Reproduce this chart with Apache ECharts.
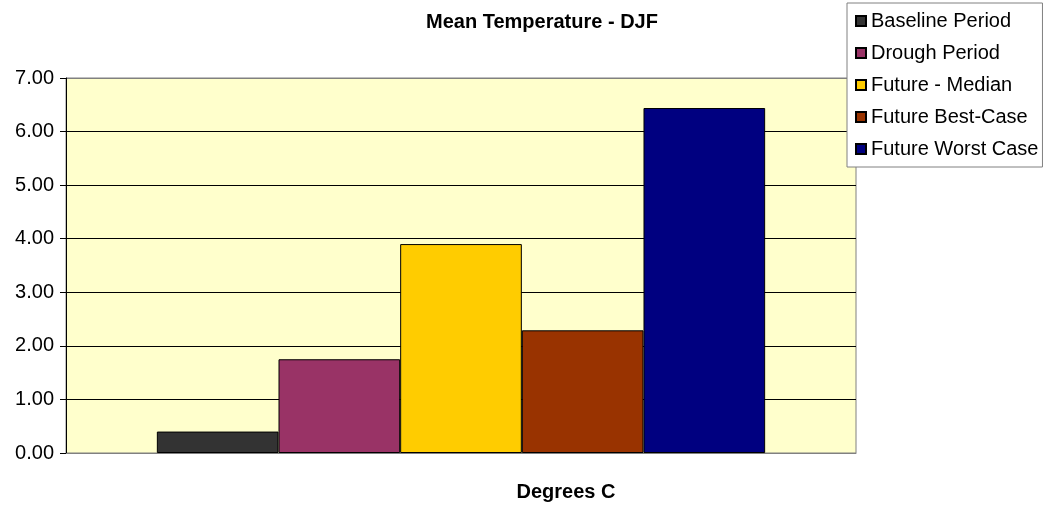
<!DOCTYPE html>
<html>
<head>
<meta charset="utf-8">
<script src="https://cdn.jsdelivr.net/npm/echarts@6/dist/echarts.min.js"></script>
<style>
  html, body { margin: 0; padding: 0; background: #fff; }
  #chart { width: 1046px; height: 505px; }
</style>
</head>
<body>
<div id="chart"></div>
<script>
// Mean DJF temperature change by period/scenario (degrees C)
const categories = ['Degrees C'];
const seriesNames = ['Baseline Period', 'Drough Period', 'Future - Median', 'Future Best-Case', 'Future Worst Case'];
const seriesValues = [0.40, 1.75, 3.90, 2.29, 6.44];
const seriesColors = ['#333333', '#993366', '#FFCC00', '#993300', '#000080'];
const yTicks = [0, 1, 2, 3, 4, 5, 6, 7];

const FONT = '"Liberation Sans", Arial, sans-serif';

const chart = echarts.init(document.getElementById('chart'), null, { renderer: 'canvas' });

const series = seriesNames.map((name, i) => ({
  name: name,
  type: 'bar',
  data: [seriesValues[i]],
  barGap: '0%',
  barCategoryGap: '23%',
  itemStyle: { color: seriesColors[i], borderColor: '#000', borderWidth: 1 },
  emphasis: { disabled: true }
}));

// gridlines are black, except the outer edges which take the frame's grey
const gridLineColors = yTicks.map((t, i) => (i === 0 || i === yTicks.length - 1) ? '#808080' : '#000');

chart.setOption({
  animation: false,
  backgroundColor: '#ffffff',
  title: [
    {
      text: 'Mean Temperature - DJF',
      left: 537, top: 7, textAlign: 'center',
      textStyle: { fontFamily: FONT, fontSize: 20, fontWeight: 'bold', color: '#000' }
    },
    {
      text: 'Degrees C',
      left: 561, top: 477, textAlign: 'center',
      textStyle: { fontFamily: FONT, fontSize: 20, fontWeight: 'bold', color: '#000' }
    }
  ],
  legend: {
    orient: 'vertical',
    left: 847, top: 3,
    padding: [8, 4, 8, 8],
    backgroundColor: '#ffffff',
    borderColor: '#808080',
    borderWidth: 1,
    itemWidth: 10,
    itemHeight: 10,
    itemGap: 12,
    itemTextGap: 7,
    icon: 'rect',
    selectedMode: false,
    textStyle: { fontFamily: FONT, fontSize: 20, color: '#000', lineHeight: 20 },
    data: seriesNames
  },
  grid: {
    left: 66, right: 190, top: 78, bottom: 52,
    show: true,
    backgroundColor: '#FFFFCC',
    borderColor: '#808080',
    borderWidth: 1,
    containLabel: false
  },
  xAxis: {
    type: 'category',
    data: categories,
    axisLine: { show: true, lineStyle: { color: '#808080', width: 1 } },
    axisTick: { show: false },
    axisLabel: { show: false },
    splitLine: { show: false }
  },
  yAxis: {
    type: 'value',
    min: yTicks[0],
    max: yTicks[yTicks.length - 1],
    interval: 1,
    axisLine: { show: true, lineStyle: { color: '#000', width: 1 } },
    axisTick: { show: true, inside: false, length: 6, lineStyle: { color: '#000' } },
    axisLabel: {
      margin: 12,
      fontFamily: FONT, fontSize: 20, color: '#000',
      formatter: v => v.toFixed(2)
    },
    splitLine: { show: true, lineStyle: { color: gridLineColors, width: 1 } }
  },
  tooltip: { show: false },
  series: series
});
</script>
</body>
</html>
